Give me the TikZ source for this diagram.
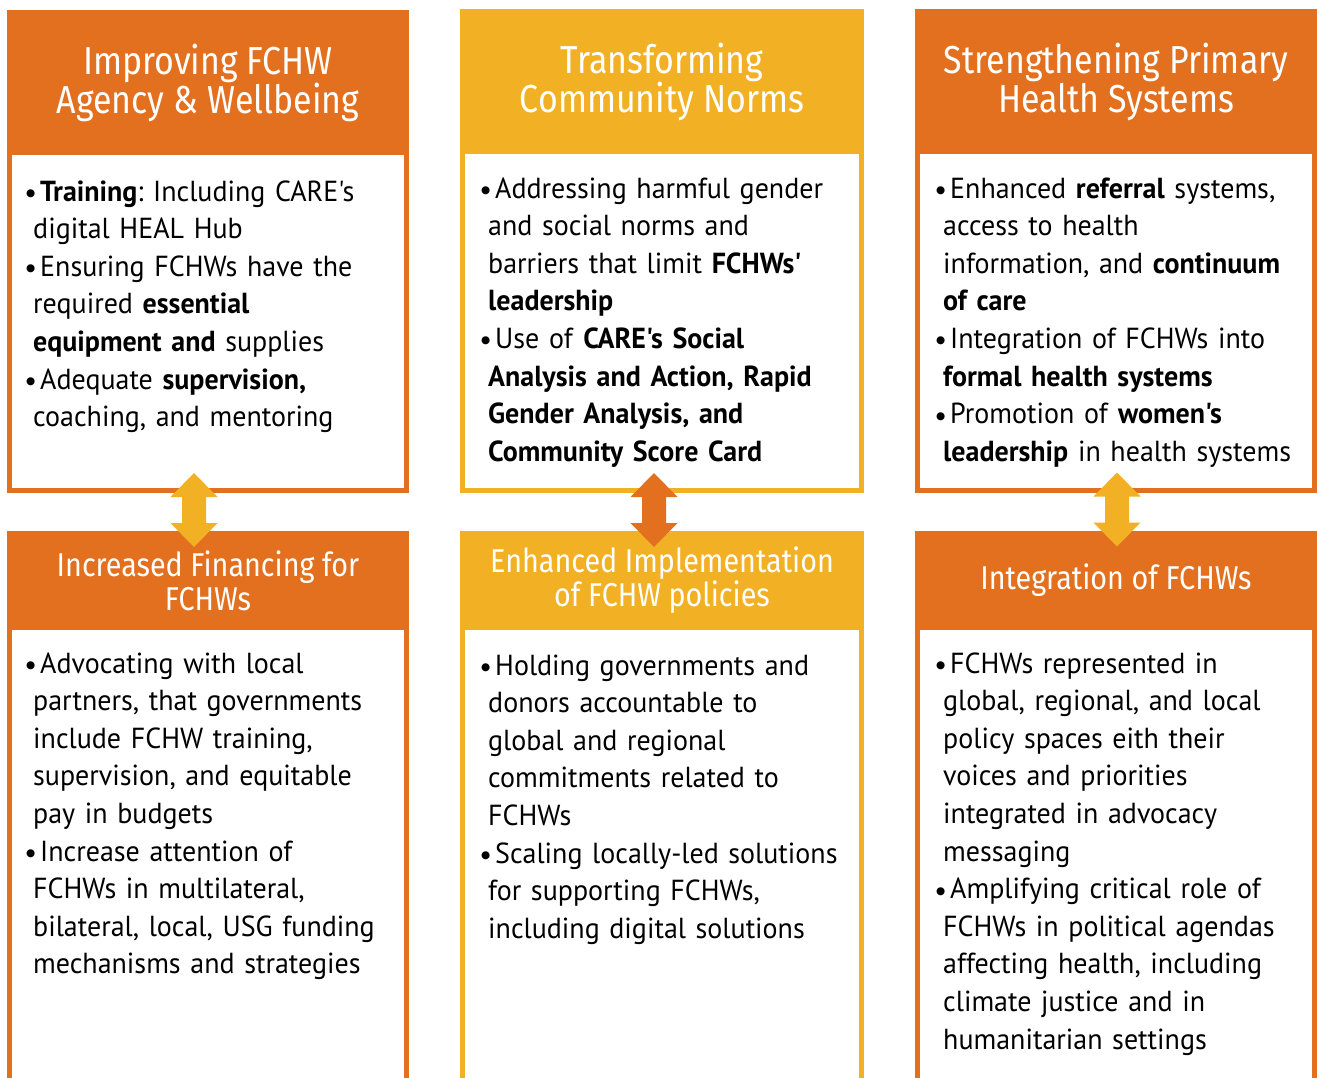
\documentclass[tikz,border=0pt]{standalone}
\usepackage{fontspec}
\setmainfont{PT Sans}[Ligatures=TeXOff, FakeStretch=0.965]
\newfontfamily\titlefont[FakeStretch=0.87]{Fira Sans}
\newfontfamily\bulfont{DejaVu Sans}
\definecolor{orangec}{HTML}{E2701F}
\definecolor{yellowc}{HTML}{F2B124}
\newcommand{\bul}{\hspace*{-7pt}\makebox[14pt][l]{\raisebox{4.5pt}{\bulfont\fontsize{10.5}{10.5}\selectfont ●}}}
\frenchspacing
\tikzset{
  hdr/.style={rectangle, inner sep=0pt, outer sep=0pt, text=white, align=center,
    font=\titlefont\fontsize{39}{39}\selectfont},
  shdr/.style={hdr, font=\titlefont\fontsize{33}{34}\selectfont},
  bodyframe/.style={rectangle, draw=#1, line width=5pt, fill=white, inner sep=0pt, outer sep=0pt},
  bodytxt/.style={anchor=base west, inner sep=0pt, align=left, text width=390pt,
    font=\frenchspacing\fontsize{29}{37.6}\selectfont, text=black},
  dblarrow/.pic={\fill (0,-37) -- (23.5,-13) -- (12,-13) -- (12,13) -- (23.5,13) -- (0,37)
     -- (-23.5,13) -- (-12,13) -- (-12,-13) -- (-23.5,-13) -- cycle;}
}
\begin{document}
\begin{tikzpicture}[x=1pt,y=-1pt]
\useasboundingbox[fill=white] (0,0) rectangle (1317,1077);
\clip (0,0) rectangle (1317,1077);
% top row frames
\node[bodyframe=orangec, minimum width=397pt, minimum height=339pt] (b1) at (208,321) {};
\node[bodyframe=yellowc, minimum width=399pt, minimum height=339pt] (b2) at (662,321) {};
\node[bodyframe=orangec, minimum width=397pt, minimum height=339pt] (b3) at (1116,321) {};
% bottom row frames
\node[bodyframe=orangec, minimum width=397pt, minimum height=472pt] (b4) at (208,863.75) {};
\node[bodyframe=yellowc, minimum width=399pt, minimum height=472pt] (b5) at (662,863.75) {};
\node[bodyframe=orangec, minimum width=397pt, minimum height=472pt] (b6) at (1116,863.75) {};
% headers
\node[hdr, fill=orangec, minimum width=402pt, minimum height=145pt] (h1) at (208,82.5) {Improving FCHW\\Agency \& Wellbeing};
\node[hdr, fill=yellowc, minimum width=404pt, minimum height=145pt] (h2) at (662,81.5) {Transforming\\Community Norms};
\node[hdr, fill=orangec, minimum width=402pt, minimum height=145pt] (h3) at (1116,81.5) {Strengthening Primary\\Health Systems};
\node[shdr, fill=orangec, minimum width=402pt, minimum height=99pt] (h4) at (208,580.5) {Increased Financing for\\FCHWs};
\node[shdr, fill=yellowc, minimum width=404pt, minimum height=99pt] (h5) at (662,580.5) {Enhanced Implementation\\of FCHW policies};
\node[shdr, fill=orangec, minimum width=402pt, minimum height=99pt] (h6) at (1116,580.5) {Integration of FCHWs};
% body texts
\node[bodytxt] (t1) at (33,201) {\bul\textbf{Training}: Including CARE's\\
digital HEAL Hub\\
\bul Ensuring FCHWs have the\\
required \textbf{essential}\\
\textbf{equipment and} supplies\\
\bul Adequate \textbf{supervision,}\\
coaching, and mentoring};
\node[bodytxt] (t2) at (488,198) {\bul Addressing harmful gender\\
and social norms and\\
barriers that limit \textbf{FCHWs'}\\
\textbf{leadership}\\
\bul Use of \textbf{CARE's Social}\\
\textbf{Analysis and Action, Rapid}\\
\textbf{Gender Analysis, and}\\
\textbf{Community Score Card}};
\node[bodytxt] (t3) at (943,198) {\bul Enhanced \textbf{referral} systems,\\
access to health\\
information, and \textbf{continuum}\\
\textbf{of care}\\
\bul Integration of FCHWs into\\
\textbf{formal health systems}\\
\bul Promotion of \textbf{women's}\\
\textbf{leadership} in health systems};
\node[bodytxt] (t4) at (33,673) {\bul Advocating with local\\
partners, that governments\\
include FCHW training,\\
supervision, and equitable\\
pay in budgets\\
\bul Increase attention of\\
FCHWs in multilateral,\\
bilateral, local, USG funding\\
mechanisms and strategies};
\node[bodytxt] (t5) at (488,675) {\bul Holding governments and\\
donors accountable to\\
global and regional\\
commitments related to\\
FCHWs\\
\bul Scaling locally-led solutions\\
for supporting FCHWs,\\
including digital solutions};
\node[bodytxt] (t6) at (943,673) {\bul FCHWs represented in\\
global, regional, and local\\
policy spaces eith their\\
voices and priorities\\
integrated in advocacy\\
messaging\\
\bul Amplifying critical role of\\
FCHWs in political agendas\\
affecting health, including\\
climate justice and in\\
humanitarian settings};
% double arrows between rows
\pic[fill=yellowc] at (194,510) {dblarrow};
\pic[fill=orangec] at (654,510) {dblarrow};
\pic[fill=yellowc] at (1117,509.5) {dblarrow};
\end{tikzpicture}
\end{document}
